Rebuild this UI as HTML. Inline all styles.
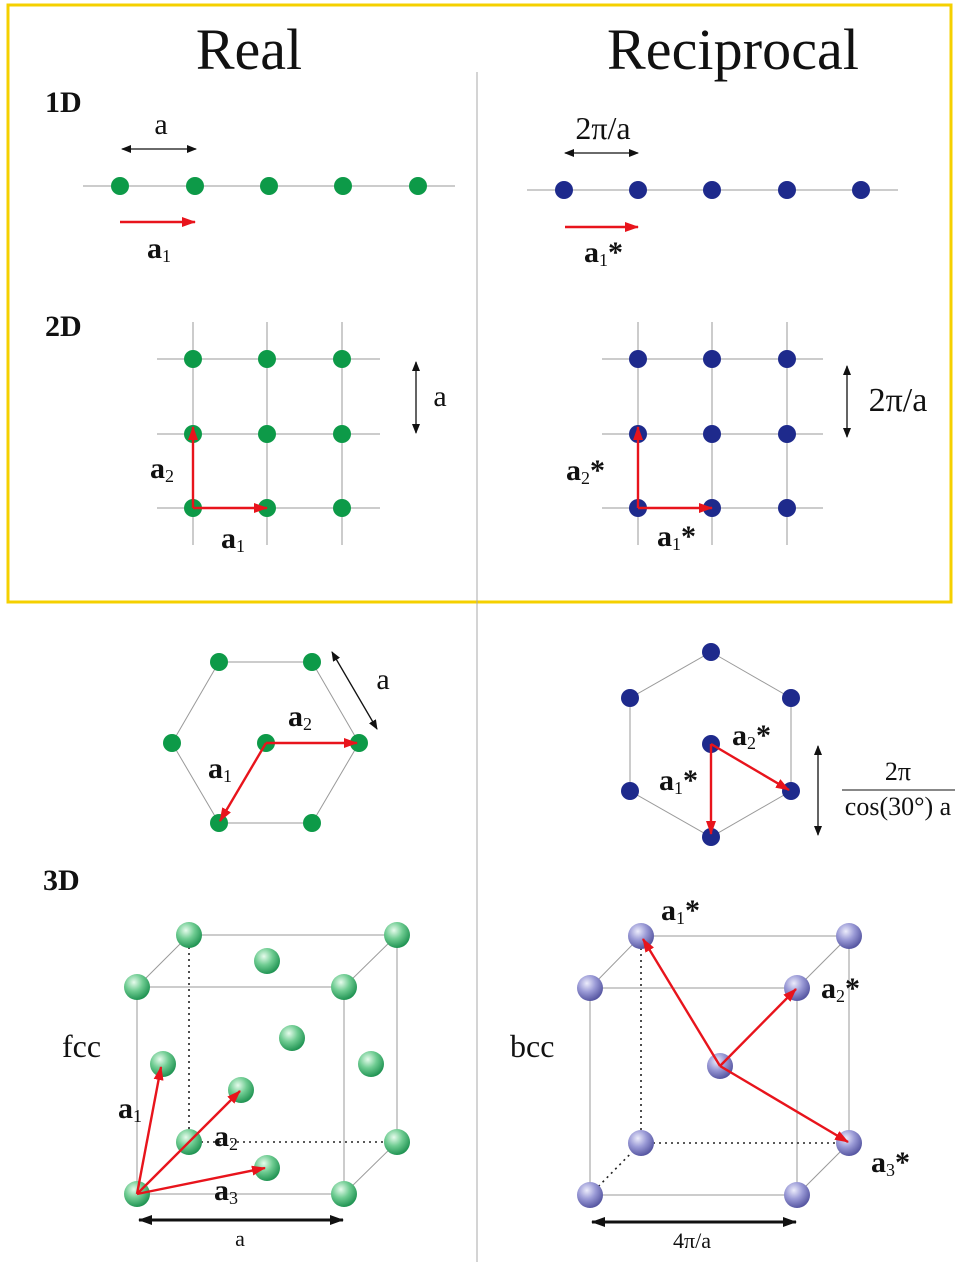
<!DOCTYPE html>
<html><head><meta charset="utf-8"><style>
html,body{margin:0;padding:0;background:#fff}
svg{display:block}
text{font-family:"Liberation Serif",serif;fill:#111}
.b{font-weight:bold;font-size:30px}
.s{font-size:18px;font-weight:normal}
.g{stroke:#9a9a9a;stroke-width:1;fill:none}
.d{stroke:#222;stroke-width:1.6;fill:none;stroke-dasharray:2 4}
.r{stroke:#e8141c;stroke-width:2.4;fill:none;marker-end:url(#rh)}
.k{stroke:#111;stroke-width:1.3;fill:none;marker-end:url(#kh);marker-start:url(#kt)}
.kb{stroke:#111;stroke-width:3;fill:none;marker-end:url(#kb1);marker-start:url(#kb2)}
</style></head><body>
<svg width="960" height="1266" viewBox="0 0 960 1266">
<defs>
<marker id="rh" markerWidth="14" markerHeight="10" refX="13" refY="5" orient="auto" markerUnits="userSpaceOnUse"><path d="M0,0L14,5L0,10z" fill="#e8141c"/></marker>
<marker id="kh" markerWidth="10" markerHeight="8" refX="9" refY="4" orient="auto" markerUnits="userSpaceOnUse"><path d="M0,0L10,4L0,8z" fill="#111"/></marker>
<marker id="kt" markerWidth="10" markerHeight="8" refX="1" refY="4" orient="auto" markerUnits="userSpaceOnUse"><path d="M10,0L0,4L10,8z" fill="#111"/></marker>
<marker id="kb1" markerWidth="14" markerHeight="10" refX="13" refY="5" orient="auto" markerUnits="userSpaceOnUse"><path d="M0,0L14,5L0,10z" fill="#111"/></marker>
<marker id="kb2" markerWidth="14" markerHeight="10" refX="1" refY="5" orient="auto" markerUnits="userSpaceOnUse"><path d="M14,0L0,5L14,10z" fill="#111"/></marker>
<radialGradient id="gs" cx="0.38" cy="0.32" r="0.75"><stop offset="0" stop-color="#e6fbec"/><stop offset="0.45" stop-color="#6fcc92"/><stop offset="1" stop-color="#138a48"/></radialGradient>
<radialGradient id="bs" cx="0.38" cy="0.32" r="0.75"><stop offset="0" stop-color="#ececfb"/><stop offset="0.45" stop-color="#9a9ad6"/><stop offset="1" stop-color="#4a4a98"/></radialGradient>
</defs>

<rect x="8" y="5" width="943" height="597" fill="none" stroke="#f5d000" stroke-width="3"/>
<line x1="477" y1="72" x2="477" y2="1262" stroke="#aaa" stroke-width="1"/>

<text x="249" y="69" font-size="58" text-anchor="middle">Real</text>
<text x="733" y="69" font-size="58" text-anchor="middle" textLength="252">Reciprocal</text>
<text x="45" y="112" class="b">1D</text>
<text x="45" y="336" class="b">2D</text>
<text x="43" y="890" class="b">3D</text>

<g>
<line x1="83" y1="186" x2="455" y2="186" class="g"/>
<g fill="#0d9a48"><circle cx="120" cy="186" r="9"/><circle cx="195" cy="186" r="9"/><circle cx="269" cy="186" r="9"/><circle cx="343" cy="186" r="9"/><circle cx="418" cy="186" r="9"/></g>
<line x1="122" y1="149" x2="196" y2="149" class="k"/>
<text x="161" y="134" font-size="30" text-anchor="middle">a</text>
<line x1="120" y1="222" x2="195" y2="222" class="r"/>
<text x="147" y="258" class="b">a<tspan class="s" dy="4">1</tspan></text>
</g>
<g>
<line x1="527" y1="190" x2="898" y2="190" class="g"/>
<g fill="#1e2a8c"><circle cx="564" cy="190" r="9"/><circle cx="638" cy="190" r="9"/><circle cx="712" cy="190" r="9"/><circle cx="787" cy="190" r="9"/><circle cx="861" cy="190" r="9"/></g>
<line x1="565" y1="153" x2="638" y2="153" class="k"/>
<text x="603" y="139" font-size="32" text-anchor="middle">2π/a</text>
<line x1="565" y1="227" x2="638" y2="227" class="r"/>
<text x="584" y="262" class="b">a<tspan class="s" dy="4">1</tspan><tspan dy="-4" font-size="30">*</tspan></text>
</g>

<g>
<g class="g"><line x1="193" y1="322" x2="193" y2="545"/><line x1="267" y1="322" x2="267" y2="545"/><line x1="342" y1="322" x2="342" y2="545"/>
<line x1="157" y1="359" x2="380" y2="359"/><line x1="157" y1="434" x2="380" y2="434"/><line x1="157" y1="508" x2="380" y2="508"/></g>
<g fill="#0d9a48"><circle cx="193" cy="359" r="9"/><circle cx="267" cy="359" r="9"/><circle cx="342" cy="359" r="9"/><circle cx="193" cy="434" r="9"/><circle cx="267" cy="434" r="9"/><circle cx="342" cy="434" r="9"/><circle cx="193" cy="508" r="9"/><circle cx="267" cy="508" r="9"/><circle cx="342" cy="508" r="9"/></g>
<line x1="193" y1="508" x2="193" y2="427" class="r"/><line x1="193" y1="508" x2="267" y2="508" class="r"/>
<text x="150" y="478" class="b">a<tspan class="s" dy="4">2</tspan></text>
<text x="221" y="548" class="b">a<tspan class="s" dy="4">1</tspan></text>
<line x1="416" y1="362" x2="416" y2="433" class="k"/>
<text x="440" y="406" font-size="30" text-anchor="middle">a</text>
</g>
<g>
<g class="g"><line x1="638" y1="322" x2="638" y2="545"/><line x1="712" y1="322" x2="712" y2="545"/><line x1="787" y1="322" x2="787" y2="545"/>
<line x1="602" y1="359" x2="823" y2="359"/><line x1="602" y1="434" x2="823" y2="434"/><line x1="602" y1="508" x2="823" y2="508"/></g>
<g fill="#1e2a8c"><circle cx="638" cy="359" r="9"/><circle cx="712" cy="359" r="9"/><circle cx="787" cy="359" r="9"/><circle cx="638" cy="434" r="9"/><circle cx="712" cy="434" r="9"/><circle cx="787" cy="434" r="9"/><circle cx="638" cy="508" r="9"/><circle cx="712" cy="508" r="9"/><circle cx="787" cy="508" r="9"/></g>
<line x1="638" y1="508" x2="638" y2="427" class="r"/><line x1="638" y1="508" x2="712" y2="508" class="r"/>
<text x="566" y="480" class="b">a<tspan class="s" dy="4">2</tspan><tspan dy="-4" font-size="30">*</tspan></text>
<text x="657" y="546" class="b">a<tspan class="s" dy="4">1</tspan><tspan dy="-4" font-size="30">*</tspan></text>
<line x1="847" y1="366" x2="847" y2="437" class="k"/>
<text x="898" y="411" font-size="34" text-anchor="middle">2π/a</text>
</g>

<g>
<polygon points="219,662 312,662 359,743 312,823 219,823 172,743" class="g"/>
<g fill="#0d9a48"><circle cx="219" cy="662" r="9"/><circle cx="312" cy="662" r="9"/><circle cx="359" cy="743" r="9"/><circle cx="312" cy="823" r="9"/><circle cx="219" cy="823" r="9"/><circle cx="172" cy="743" r="9"/><circle cx="266" cy="743" r="9"/></g>
<line x1="266" y1="743" x2="220" y2="821" class="r"/><line x1="266" y1="743" x2="357" y2="743" class="r"/>
<text x="288" y="726" class="b">a<tspan class="s" dy="4">2</tspan></text>
<text x="208" y="778" class="b">a<tspan class="s" dy="4">1</tspan></text>
<line x1="332" y1="652" x2="377" y2="729" class="k"/>
<text x="383" y="689" font-size="30" text-anchor="middle">a</text>
</g>
<g>
<polygon points="711,652 791,698 791,791 711,837 630,791 630,698" class="g"/>
<g fill="#1e2a8c"><circle cx="711" cy="652" r="9"/><circle cx="791" cy="698" r="9"/><circle cx="791" cy="791" r="9"/><circle cx="711" cy="837" r="9"/><circle cx="630" cy="791" r="9"/><circle cx="630" cy="698" r="9"/><circle cx="711" cy="744" r="9"/></g>
<line x1="711" y1="744" x2="711" y2="834" class="r"/><line x1="711" y1="744" x2="789" y2="790" class="r"/>
<text x="732" y="745" class="b">a<tspan class="s" dy="4">2</tspan><tspan dy="-4" font-size="30">*</tspan></text>
<text x="659" y="790" class="b">a<tspan class="s" dy="4">1</tspan><tspan dy="-4" font-size="30">*</tspan></text>
<line x1="818" y1="746" x2="818" y2="835" class="k"/>
<text x="898" y="780" font-size="26" text-anchor="middle">2π</text>
<line x1="842" y1="790" x2="955" y2="790" stroke="#111" stroke-width="1"/>
<text x="898" y="815" font-size="26" text-anchor="middle">cos(30°) a</text>
</g>

<g>
<g class="g">
<polyline points="137,987 189,935 397,935 397,1142 344,1194"/>
<line x1="344" y1="987" x2="397" y2="935"/>
<rect x="137" y="987" width="207" height="207"/>
</g>
<line x1="189" y1="935" x2="189" y2="1142" class="d"/>
<line x1="189" y1="1142" x2="397" y2="1142" class="d"/>
<g fill="url(#gs)">
<circle cx="189" cy="935" r="13"/><circle cx="397" cy="935" r="13"/><circle cx="267" cy="961" r="13"/>
<circle cx="137" cy="987" r="13"/><circle cx="344" cy="987" r="13"/><circle cx="292" cy="1038" r="13"/>
<circle cx="163" cy="1064" r="13"/><circle cx="371" cy="1064" r="13"/><circle cx="241" cy="1090" r="13"/>
<circle cx="189" cy="1142" r="13"/><circle cx="397" cy="1142" r="13"/><circle cx="267" cy="1168" r="13"/>
<circle cx="137" cy="1194" r="13"/><circle cx="344" cy="1194" r="13"/>
</g>
<line x1="137" y1="1194" x2="161" y2="1067" class="r"/>
<line x1="137" y1="1194" x2="240" y2="1091" class="r"/>
<line x1="137" y1="1194" x2="265" y2="1168" class="r"/>
<text x="118" y="1118" class="b">a<tspan class="s" dy="4">1</tspan></text>
<text x="214" y="1146" class="b">a<tspan class="s" dy="4">2</tspan></text>
<text x="214" y="1200" class="b">a<tspan class="s" dy="4">3</tspan></text>
<text x="62" y="1057" font-size="32">fcc</text>
<line x1="139" y1="1220" x2="343" y2="1220" class="kb"/>
<text x="240" y="1246" font-size="22" text-anchor="middle">a</text>
</g>

<g>
<g class="g">
<polyline points="590,988 641,936 849,936 849,1143 797,1195"/>
<line x1="797" y1="988" x2="849" y2="936"/>
<rect x="590" y="988" width="207" height="207"/>
</g>
<line x1="641" y1="936" x2="641" y2="1143" class="d"/>
<line x1="641" y1="1143" x2="849" y2="1143" class="d"/>
<line x1="590" y1="1195" x2="641" y2="1143" class="d"/>
<g fill="url(#bs)">
<circle cx="641" cy="936" r="13"/><circle cx="849" cy="936" r="13"/>
<circle cx="590" cy="988" r="13"/><circle cx="797" cy="988" r="13"/>
<circle cx="720" cy="1066" r="13"/>
<circle cx="641" cy="1143" r="13"/><circle cx="849" cy="1143" r="13"/>
<circle cx="590" cy="1195" r="13"/><circle cx="797" cy="1195" r="13"/>
</g>
<line x1="720" y1="1066" x2="643" y2="939" class="r"/>
<line x1="720" y1="1066" x2="796" y2="989" class="r"/>
<line x1="720" y1="1066" x2="848" y2="1142" class="r"/>
<text x="661" y="920" class="b">a<tspan class="s" dy="4">1</tspan><tspan dy="-4" font-size="30">*</tspan></text>
<text x="821" y="998" class="b">a<tspan class="s" dy="4">2</tspan><tspan dy="-4" font-size="30">*</tspan></text>
<text x="871" y="1172" class="b">a<tspan class="s" dy="4">3</tspan><tspan dy="-4" font-size="30">*</tspan></text>
<text x="510" y="1057" font-size="32">bcc</text>
<line x1="592" y1="1222" x2="796" y2="1222" class="kb"/>
<text x="692" y="1248" font-size="22" text-anchor="middle">4π/a</text>
</g>
</svg>
</body></html>
